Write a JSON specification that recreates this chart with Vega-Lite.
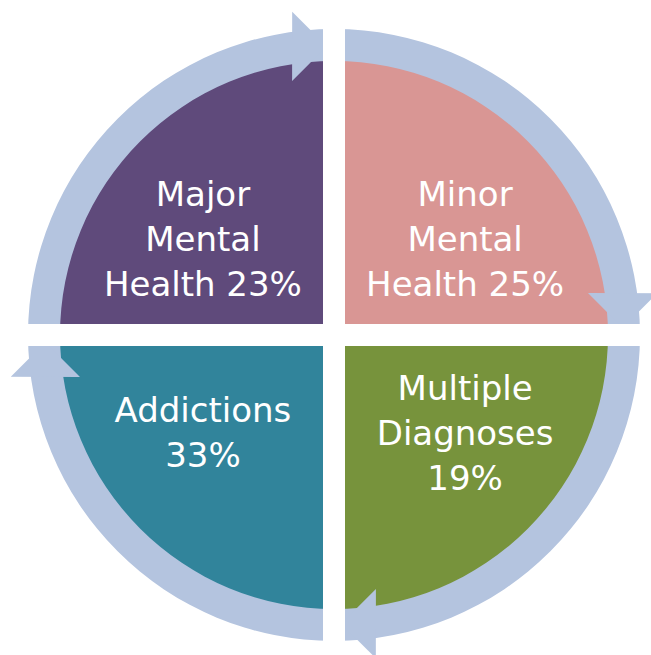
{
  "$schema": "https://vega.github.io/schema/vega-lite/v6.json",
  "width": 634,
  "height": 640,
  "autosize": {"type": "none"},
  "padding": {"left": 17, "top": 15, "right": 0, "bottom": 0},
  "background": "white",
  "config": {"view": {"stroke": null}},
  "data": {
    "values": [
      {"segment": "Minor Mental Health", "step": 1, "quarter": 1, "pct": 25, "label": ["Minor", "Mental", "Health 25%"]},
      {"segment": "Multiple Diagnoses", "step": 2, "quarter": 1, "pct": 19, "label": ["Multiple", "Diagnoses", "19%"]},
      {"segment": "Addictions", "step": 3, "quarter": 1, "pct": 33, "label": ["Addictions", "33%"]},
      {"segment": "Major Mental Health", "step": 4, "quarter": 1, "pct": 23, "label": ["Major", "Mental", "Health 23%"]}
    ]
  },
  "layer": [
    {
      "mark": {"type": "arc", "radius": 288, "radius2": 0},
      "encoding": {
        "theta": {"field": "quarter", "type": "quantitative", "stack": true},
        "order": {"field": "step", "type": "quantitative"},
        "color": {
          "field": "segment",
          "type": "nominal",
          "scale": {
            "domain": ["Minor Mental Health", "Multiple Diagnoses", "Addictions", "Major Mental Health"],
            "range": ["#D99694", "#77933C", "#31849B", "#5F4A7B"]
          },
          "legend": null
        }
      }
    },
    {
      "mark": {"type": "arc", "radius": 306, "radius2": 274, "color": "#B4C4DF", "theta2Offset": -0.107},
      "encoding": {
        "theta": {"field": "quarter", "type": "quantitative", "stack": true},
        "order": {"field": "step", "type": "quantitative"},
        "detail": {"field": "segment"}
      }
    },
    {
      "mark": {"type": "text", "text": "◥", "font": "DejaVu Sans", "fontSize": 64, "color": "#B4C4DF", "radius": 293, "thetaOffset": 0.648, "align": "center", "baseline": "middle"},
      "encoding": {
        "theta": {"field": "quarter", "type": "quantitative", "stack": true},
        "order": {"field": "step", "type": "quantitative"},
        "detail": {"field": "segment"},
        "angle": {"field": "step", "type": "quantitative", "scale": {"domain": [1, 4], "range": [135, 405]}, "legend": null}
      }
    },
    {
      "mark": {"type": "rule", "color": "white", "strokeWidth": 22},
      "encoding": {
        "x": {"datum": 0, "type": "quantitative", "scale": {"domain": [-1, 1]}, "axis": null}
      }
    },
    {
      "mark": {"type": "rule", "color": "white", "strokeWidth": 22},
      "encoding": {
        "y": {"datum": 0, "type": "quantitative", "scale": {"domain": [-1, 1]}, "axis": null}
      }
    },
    {
      "mark": {"type": "text", "font": "DejaVu Sans", "fontSize": 34, "color": "white", "radius": 164, "thetaOffset": 0.1407, "dy": -40, "lineHeight": 45, "align": "center", "baseline": "middle"},
      "encoding": {
        "theta": {"field": "quarter", "type": "quantitative", "stack": true},
        "order": {"field": "step", "type": "quantitative"},
        "detail": {"field": "segment"},
        "text": {"condition": {"test": "datum.step === 1", "field": "label"}, "value": ""}
      }
    },
    {
      "mark": {"type": "text", "font": "DejaVu Sans", "fontSize": 34, "color": "white", "radius": 164, "thetaOffset": -0.1407, "dy": -44, "lineHeight": 45, "align": "center", "baseline": "middle"},
      "encoding": {
        "theta": {"field": "quarter", "type": "quantitative", "stack": true},
        "order": {"field": "step", "type": "quantitative"},
        "detail": {"field": "segment"},
        "text": {"condition": {"test": "datum.step === 2", "field": "label"}, "value": ""}
      }
    },
    {
      "mark": {"type": "text", "font": "DejaVu Sans", "fontSize": 34, "color": "white", "radius": 164, "thetaOffset": 0.1407, "dy": -21.5, "lineHeight": 45, "align": "center", "baseline": "middle"},
      "encoding": {
        "theta": {"field": "quarter", "type": "quantitative", "stack": true},
        "order": {"field": "step", "type": "quantitative"},
        "detail": {"field": "segment"},
        "text": {"condition": {"test": "datum.step === 3", "field": "label"}, "value": ""}
      }
    },
    {
      "mark": {"type": "text", "font": "DejaVu Sans", "fontSize": 34, "color": "white", "radius": 164, "thetaOffset": -0.1407, "dy": -40, "lineHeight": 45, "align": "center", "baseline": "middle"},
      "encoding": {
        "theta": {"field": "quarter", "type": "quantitative", "stack": true},
        "order": {"field": "step", "type": "quantitative"},
        "detail": {"field": "segment"},
        "text": {"condition": {"test": "datum.step === 4", "field": "label"}, "value": ""}
      }
    }
  ]
}
